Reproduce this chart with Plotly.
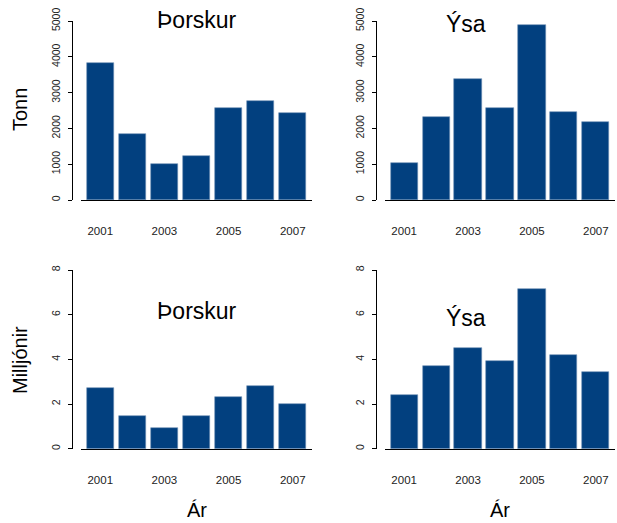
import plotly.graph_objects as go

# Data
years = [2001, 2002, 2003, 2004, 2005, 2006, 2007]
cod_tonn = [3820, 1830, 1000, 1240, 2560, 2760, 2420]
haddock_tonn = [1030, 2330, 3370, 2560, 4890, 2460, 2170]
cod_millj = [2.73, 1.48, 0.91, 1.48, 2.31, 2.79, 1.99]
haddock_millj = [2.40, 3.72, 4.51, 3.93, 7.13, 4.18, 3.43]

tonn_ticks = [0, 1000, 2000, 3000, 4000, 5000]
millj_ticks = [0, 2, 4, 6, 8]
year_ticks = [2001, 2003, 2005, 2007]

W, H = 617, 523
BAR_COLOR = "#02407f"
FONT = "Liberation Sans, Arial, sans-serif"


def px_x(p):
    return p / W


def px_y(p):
    return 1 - p / H


fig = go.Figure()

panels = [
    # (values, axis suffix, x domain px, y domain px, y-axis px, ticks)
    (cod_tonn, "", (81, 312), (21, 200), 72, tonn_ticks),
    (haddock_tonn, "2", (385, 615), (21, 200), 376, tonn_ticks),
    (cod_millj, "3", (81, 312), (270, 448.7), 72, millj_ticks),
    (haddock_millj, "4", (385, 615), (270, 448.7), 376, millj_ticks),
]

layout = {}
for values, sfx, xdom, ydom, ypos, yticks in panels:
    fig.add_trace(
        go.Bar(
            x=years,
            y=values,
            width=0.85,
            marker=dict(color=BAR_COLOR, line=dict(color="#6f8fb5", width=0.6)),
            xaxis="x" + sfx,
            yaxis="y" + sfx,
            showlegend=False,
        )
    )
    layout["xaxis" + sfx] = dict(
        domain=[px_x(xdom[0]), px_x(xdom[1])],
        range=[2000.4, 2007.6],
        anchor="y" + sfx,
        automargin=False,
        showline=True,
        linecolor="black",
        linewidth=1,
        ticks="",
        tickvals=year_ticks,
        ticktext=[str(y) for y in year_ticks],
        ticklabelstandoff=20,
        tickfont=dict(size=11.5, color="#222", family=FONT),
        showgrid=False,
        zeroline=False,
        fixedrange=True,
    )
    layout["yaxis" + sfx] = dict(
        domain=[px_y(ydom[1]), px_y(ydom[0])],
        range=[0, yticks[-1]],
        anchor="free",
        position=px_x(ypos),
        automargin=False,
        showline=True,
        linecolor="black",
        linewidth=1,
        ticks="outside",
        ticklen=4,
        tickcolor="black",
        tickvals=yticks,
        tickangle=-90,
        ticklabelstandoff=4,
        tickfont=dict(size=10.5, color="#222", family=FONT),
        showgrid=False,
        zeroline=False,
        fixedrange=True,
    )

annotations = [
    ("Þorskur", 197, 20, 23),
    ("Ýsa", 466, 24, 23),
    ("Þorskur", 197, 311, 23),
    ("Ýsa", 466, 318, 23),
    ("Ár", 197, 510, 20),
    ("Ár", 500, 510, 20),
]
ann = [
    dict(
        text=t, x=px_x(x), y=px_y(y), xref="paper", yref="paper",
        showarrow=False, xanchor="center", yanchor="middle",
        font=dict(size=s, color="black", family=FONT),
    )
    for t, x, y, s in annotations
]
for t, y in [("Tonn", 110), ("Milljónir", 360)]:
    ann.append(
        dict(
            text=t, x=px_x(20), y=px_y(y), xref="paper", yref="paper",
            showarrow=False, textangle=-90, xanchor="center", yanchor="middle",
            font=dict(size=20, color="black", family=FONT),
        )
    )

fig.update_layout(
    width=W,
    height=H,
    margin=dict(l=0, r=0, t=0, b=0, autoexpand=False),
    paper_bgcolor="white",
    plot_bgcolor="white",
    bargap=0,
    annotations=ann,
    font=dict(family=FONT),
    **layout,
)

# drop the browser's default body margin so the figure sits at the page corner
fig.write_html(
    "out.html",
    config={"displayModeBar": False},
    post_script="document.body.style.margin='0';",
)
